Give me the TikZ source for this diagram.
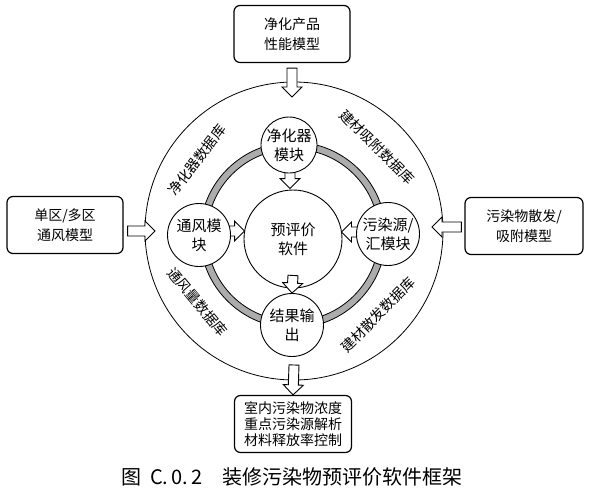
\documentclass[tikz,border=0pt]{standalone}
\usepackage{fontspec}
\setmainfont{Noto Sans CJK SC}
\usetikzlibrary{calc}

\newcommand{\hollowarrow}[2]{%
  \coordinate (ha-s) at (#1);
  \coordinate (ha-t) at (#2);
  \coordinate (ha-b) at ($(ha-t)!10pt!(ha-s)$);
  \filldraw[fill=white, line width=0.9pt]
    ($(ha-s)!5pt!90:(ha-t)$) -- ($(ha-b)!5pt!90:(ha-t)$) -- ($(ha-b)!10pt!90:(ha-t)$)
    -- (ha-t) -- ($(ha-b)!10pt!-90:(ha-t)$) -- ($(ha-b)!5pt!-90:(ha-t)$)
    -- ($(ha-s)!5pt!-90:(ha-t)$) -- cycle;}

\begin{document}
\begin{tikzpicture}[x=1pt, y=-1pt, thick,
    module/.style={draw, circle, fill=white, line width=0.9pt, minimum size=63pt, inner sep=0pt,
      align=center, font=\fontsize{15}{19}\selectfont},
    modelbox/.style={draw, fill=white, rounded corners=6pt, line width=1.2pt, align=center,
      minimum width=116pt, minimum height=57pt, font=\fontsize{14}{20}\selectfont},
    dblabel/.style={font=\fontsize{14}{16}\selectfont}]
    \useasboundingbox (0,0) rectangle (589,496);

    \draw[line width=0.8pt] (294,231) circle (149pt);
    \coordinate (ring) at (293,235);
    \fill[gray!65, even odd rule] (ring) circle (93pt) circle (86pt);
    \draw[line width=0.8pt] (ring) circle (93pt) (ring) circle (86pt);

    \node[module, minimum size=98pt] (core) at (293,239) {预评价\\软件};

    \node[dblabel, rotate=53] (db-purifier) at (197,160) {净化器数据库};
    \node[dblabel, rotate=-45] (db-adsorb) at (377,147) {建材吸附数据库};
    \node[dblabel, rotate=-50] (db-vent) at (198,302) {通风量数据库};
    \node[dblabel, rotate=46] (db-emit) at (378,315) {建材散发数据库};

    \node[modelbox] (topbox) at (292,34) {净化产品\\性能模型};
    \node[modelbox] (leftbox) at (65,225) {单区/多区\\通风模型};
    \node[modelbox, minimum width=118pt] (rightbox) at (524,226) {污染物散发/\\吸附模型};
    \node[modelbox, minimum width=117pt, font=\fontsize{14}{16}\selectfont] (outbox) at (293,424)
      {室内污染物浓度\\重点污染源解析\\材料释放率控制};

    \coordinate (top-tip) at (292,97);
    \coordinate (left-tip) at (155,231);
    \coordinate (right-tip) at (432,227);
    \coordinate (out-start) at (294,365);
    \hollowarrow{$(topbox.south)+(0,5)$}{top-tip}
    \hollowarrow{$(leftbox.east)+(4,6)$}{left-tip}
    \hollowarrow{$(rightbox.west)+(-3,1)$}{right-tip}
    \hollowarrow{out-start}{outbox.north}

    \hollowarrow{290,166}{$(core.north)+(-3,-1)$}
    \hollowarrow{227,231}{$(core.west)+(1,-8)$}
    \hollowarrow{360,232}{$(core.east)+(-1,-7)$}
    \hollowarrow{$(core.south)+(0,-13)$}{292,293}

    \node[module, minimum size=56pt] (purifier) at (289,145) {净化器\\模块};
    \node[module] (ventmod) at (199,235) {通风模\\块};
    \node[module] (sourcemod) at (388,234) {污染源/\\汇模块};
    \node[module] (results) at (292,325) {结果输\\出};

    \node[font=\fontsize{20}{22}\selectfont] (caption) at (292,477)
      {图\hspace{9pt}C.\,0.\,2\hspace{20pt}装修污染物预评价软件框架};
\end{tikzpicture}
\end{document}
